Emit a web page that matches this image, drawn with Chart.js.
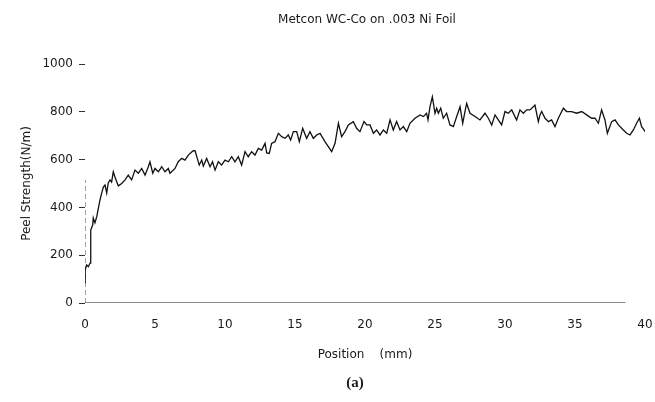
<!DOCTYPE html>
<html>
<head>
<meta charset="utf-8">
<title>Peel strength</title>
<script src="https://cdn.jsdelivr.net/npm/chart.js@4.4.1/dist/chart.umd.min.js"></script>
<style>
  body { margin: 0; background: #fff; }
  #peelChart { display: block; }
</style>
</head>
<body>
<canvas id="peelChart" width="655" height="402"></canvas>
<script>
// position along the peel (mm)
const positions = [
  0.00, 0.01, 0.12, 0.24, 0.36, 0.41, 0.55, 0.59, 0.71, 0.84,
  1.07, 1.19, 1.31, 1.43, 1.55, 1.66, 1.79, 1.90, 2.02, 2.14,
  2.38, 2.62, 2.86, 3.09, 3.33, 3.57, 3.81, 4.05, 4.29, 4.52,
  4.64, 4.84, 5.00, 5.24, 5.48, 5.71, 5.95, 6.07, 6.43, 6.66,
  6.91, 7.14, 7.38, 7.62, 7.74, 7.86, 8.02, 8.16, 8.34, 8.45,
  8.69, 8.93, 9.11, 9.29, 9.52, 9.76, 10.00, 10.24, 10.48, 10.71,
  10.95, 11.19, 11.43, 11.66, 11.90, 12.14, 12.38, 12.62, 12.86, 12.98,
  13.16, 13.33, 13.57, 13.81, 14.05, 14.29, 14.52, 14.69, 14.88, 15.12,
  15.31, 15.55, 15.83, 16.07, 16.31, 16.55, 16.79, 17.14, 17.38, 17.62,
  17.86, 18.10, 18.33, 18.57, 18.81, 19.17, 19.40, 19.64, 19.93, 20.12,
  20.36, 20.60, 20.83, 21.07, 21.31, 21.55, 21.79, 22.02, 22.26, 22.50,
  22.74, 22.98, 23.21, 23.57, 23.93, 24.17, 24.40, 24.50, 24.64, 24.81,
  25.00, 25.12, 25.24, 25.41, 25.59, 25.83, 26.07, 26.31, 26.55, 26.79,
  26.98, 27.14, 27.26, 27.50, 27.86, 28.21, 28.57, 28.81, 29.05, 29.29,
  29.52, 29.76, 30.00, 30.24, 30.48, 30.83, 31.07, 31.31, 31.55, 31.79,
  32.14, 32.38, 32.50, 32.62, 32.86, 33.10, 33.33, 33.57, 33.81, 34.17,
  34.40, 34.76, 35.12, 35.48, 35.83, 36.19, 36.43, 36.67, 36.90, 37.14,
  37.31, 37.62, 37.86, 38.10, 38.45, 38.69, 38.93, 39.17, 39.40, 39.60,
  39.76, 39.93, 40.00
];

// peel strength (N/m)
const peelStrength = [
  85, 138, 159, 152, 167, 305, 326, 356, 335, 361,
  431, 460, 485, 494, 460, 502, 515, 506, 549, 527,
  490, 500, 515, 535, 515, 556, 543, 563, 535, 570,
  591, 543, 563, 549, 570, 549, 563, 543, 563, 591,
  605, 598, 619, 632, 637, 637, 605, 577, 598, 573,
  605, 570, 591, 556, 591, 577, 598, 591, 612, 591,
  612, 577, 633, 612, 633, 619, 647, 640, 668, 628,
  626, 668, 675, 710, 696, 689, 703, 682, 717, 717,
  675, 731, 689, 717, 689, 703, 710, 675, 654, 633,
  668, 752, 696, 717, 745, 759, 731, 717, 759, 745,
  745, 710, 724, 703, 724, 710, 766, 724, 759, 724,
  738, 717, 752, 773, 787, 780, 794, 766, 821, 863,
  794, 815, 794, 815, 773, 794, 745, 738, 780, 821,
  752, 801, 835, 794, 780, 766, 794, 773, 745, 787,
  766, 745, 801, 794, 808, 766, 808, 794, 808, 808,
  828, 759, 787, 801, 773, 759, 766, 738, 773, 815,
  801, 801, 794, 801, 787, 773, 773, 752, 808, 766,
  710, 759, 766, 745, 724, 710, 703, 724, 752, 773,
  738, 724, 717
];

const xTickValues = [0, 5, 10, 15, 20, 25, 30, 35, 40];
const yTickValues = [0, 200, 400, 600, 800, 1000];

// faint axis lines as they appear on the scanned plot
const baselineX = [0, 38.6];
const baselineY = [0, 0];
const axisStubX = [0, 0];
const axisStubY = [0, 515];

const chartTitle = "Metcon WC-Co on .003 Ni Foil";
const panelLabel = "(a)";

const FONT = "'DejaVu Sans', sans-serif";

function toPoints(xs, ys) {
  return xs.map((x, i) => ({ x: x, y: ys[i] }));
}

// title and panel letter drawn at fixed spots, like the scanned figure
const captionPlugin = {
  id: "captions",
  afterDraw(chart) {
    const ctx = chart.ctx;
    ctx.save();
    ctx.fillStyle = "#1a1a1a";
    ctx.textAlign = "center";
    ctx.textBaseline = "middle";
    ctx.font = "12px " + FONT;
    ctx.fillText(chartTitle, 367, 20);
    ctx.font = "bold 15px 'Liberation Serif', serif";
    ctx.fillText(panelLabel, 355, 383);
    ctx.restore();
  },
};

const ctx = document.getElementById("peelChart").getContext("2d");

new Chart(ctx, {
  type: "line",
  data: {
    datasets: [
      {
        label: "Peel strength",
        data: toPoints(positions, peelStrength),
        borderColor: "#111",
        borderWidth: 1.3,
        pointRadius: 0,
        tension: 0,
      },
      {
        label: "x axis",
        data: toPoints(baselineX, baselineY),
        borderColor: "#666",
        borderWidth: 1.5,
        pointRadius: 0,
      },
      {
        label: "y axis",
        data: toPoints(axisStubX, axisStubY),
        borderColor: "#444",
        borderWidth: 1,
        borderDash: [5, 3],
        pointRadius: 0,
      },
    ],
  },
  options: {
    responsive: false,
    animation: false,
    layout: {
      padding: { top: 64, right: 0, left: 0, bottom: 0 },
    },
    plugins: {
      legend: { display: false },
      tooltip: { enabled: false },
    },
    scales: {
      x: {
        type: "linear",
        min: 0,
        max: 40,
        afterBuildTicks: (scale) => {
          scale.ticks = xTickValues.map((v) => ({ value: v }));
        },
        afterFit: (scale) => {
          scale.height = 99;
          scale.paddingLeft = 0;
          scale.paddingRight = 10;
        },
        grid: { display: false, drawTicks: false },
        border: { display: false },
        ticks: {
          padding: 15,
          color: "#1a1a1a",
          font: { family: FONT, size: 12 },
          callback: (value) => String(value),
        },
        title: {
          display: true,
          text: "Position    (mm)",
          color: "#1a1a1a",
          font: { family: FONT, size: 12 },
          padding: { top: 4, bottom: 40 },
        },
      },
      y: {
        min: 0,
        max: 1000,
        afterBuildTicks: (scale) => {
          scale.ticks = yTickValues.map((v) => ({ value: v }));
        },
        afterFit: (scale) => {
          scale.width = 85;
        },
        grid: {
          drawOnChartArea: false,
          drawTicks: true,
          tickLength: 6,
          tickColor: "#333",
        },
        border: { display: false },
        ticks: {
          padding: 6,
          color: "#1a1a1a",
          font: { family: FONT, size: 12 },
          callback: (value) => String(value),
        },
        title: {
          display: true,
          text: "Peel Strength(N/m)",
          color: "#1a1a1a",
          font: { family: FONT, size: 12 },
          padding: { top: 20, bottom: 4 },
        },
      },
    },
  },
  plugins: [captionPlugin],
});
</script>
</body>
</html>
